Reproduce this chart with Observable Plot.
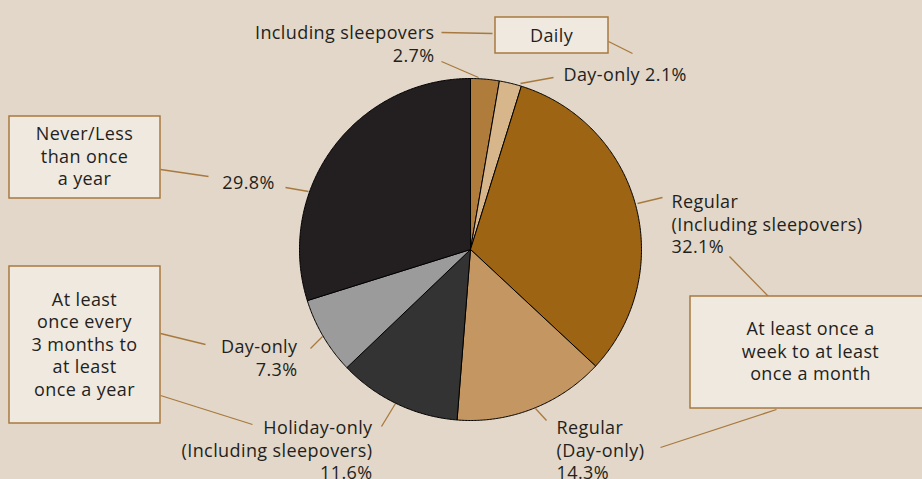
<!DOCTYPE html>
<html>
<head>
<meta charset="utf-8">
<script src="https://cdn.jsdelivr.net/npm/d3@7"></script>
<script src="https://cdn.jsdelivr.net/npm/@observablehq/plot@0.6"></script>
<style>
  html, body { margin: 0; padding: 0; background: #e2d7c8; }
  #chart svg { display: block; }
</style>
</head>
<body>
<div id="chart"></div>
<script>
// ---- data ----
const sliceNames = [
  "Daily – Including sleepovers",
  "Daily – Day-only",
  "Regular (Including sleepovers)",
  "Regular (Day-only)",
  "Holiday-only (Including sleepovers)",
  "Day-only",
  "Never/Less than once a year"
];
const sliceValues = [2.7, 2.1, 32.1, 14.3, 11.6, 7.3, 29.8];
const sliceColors = ["#b07c3b", "#d7b68c", "#9c6413", "#c49661", "#333333", "#9b9b9b", "#231f20"];

const sliceLabels = [
  "Including sleepovers\n2.7%",
  "Day-only 2.1%",
  "Regular\n(Including sleepovers)\n32.1%",
  "Regular\n(Day-only)\n14.3%",
  "Holiday-only\n(Including sleepovers)\n11.6%",
  "Day-only\n7.3%",
  "29.8%"
];
const groupLabels = [
  "Daily",
  "At least once a\nweek to at least\nonce a month",
  "At least\nonce every\n3 months to\nat least\nonce a year",
  "Never/Less\nthan once\na year"
];

// ---- layout (pixels) ----
const W = 922, H = 479;
const cx = 470, cy = 249, R = 171;
const labelPos = [
  {x: 434, y: 43, anchor: "end"},
  {x: 563, y: 73, anchor: "start"},
  {x: 671, y: 223, anchor: "start"},
  {x: 556, y: 449, anchor: "start"},
  {x: 372, y: 449, anchor: "end"},
  {x: 297, y: 357, anchor: "end"},
  {x: 248, y: 181, anchor: "middle"}
];
const boxPos = [
  {x1: 495, x2: 608, y1: 17, y2: 53, tx: 551, ty: 34},
  {x1: 690, x2: 935, y1: 296, y2: 408, tx: 810, ty: 350},
  {x1: 9, x2: 160, y1: 266, y2: 423, tx: 84, ty: 343},
  {x1: 9, x2: 160, y1: 116, y2: 198, tx: 84, ty: 155}
];
const leaders = [
  [441, 32, 492, 33], [608, 41, 632, 53], [441, 61, 478, 77], [520, 83, 553, 77],
  [160, 169, 208, 176], [285, 187, 308, 191],
  [160, 333, 205, 344], [160, 395, 252, 424],
  [310, 348, 322, 336], [381, 426, 395, 403],
  [637, 203, 662, 197], [729, 256, 768, 296],
  [776, 409, 660, 447], [535, 408, 546, 420]
];

// ---- build pie polygons from values ----
const arcs = d3.pie().sort(null).startAngle(0).endAngle(2 * Math.PI)(sliceValues);
const piePts = [];
arcs.forEach((a, i) => {
  const key = sliceNames[i];
  const col = sliceColors[i];
  piePts.push({key, col, x: cx, y: cy});
  const n = Math.max(2, Math.ceil((a.endAngle - a.startAngle) / (Math.PI / 360)));
  for (let k = 0; k <= n; k++) {
    const t = a.startAngle + (a.endAngle - a.startAngle) * k / n;
    piePts.push({key, col, x: cx + R * Math.sin(t), y: cy - R * Math.cos(t)});
  }
  piePts.push({key, col, x: cx, y: cy});
});

const labelData = sliceLabels.map((t, i) => ({text: t, ...labelPos[i]}));
const boxData = groupLabels.map((t, i) => ({text: t, ...boxPos[i]}));
const leaderData = leaders.map(([x1, y1, x2, y2]) => ({x1, y1, x2, y2}));

const font = "'Open Sans', sans-serif";
const fs = 18;
const lh = 1.25;
const textColor = "#231f20";
const accent = "#a8793f";

const chart = Plot.plot({
  width: W, height: H,
  margin: 0,
  x: {domain: [0, W], range: [0, W], axis: null},
  y: {domain: [0, H], range: [0, H], axis: null},
  color: {type: "identity"},
  style: {background: "#e2d7c8", fontFamily: font, fontSize: fs + "px", color: textColor, letterSpacing: "0.4px"},
  marks: [
    Plot.link(leaderData, {x1: "x1", y1: "y1", x2: "x2", y2: "y2", stroke: accent, strokeWidth: 1.3}),
    Plot.rect(boxData, {x1: "x1", x2: "x2", y1: "y1", y2: "y2", fill: "#f0e9e0", stroke: accent, strokeWidth: 1.5}),
    Plot.text(boxData, {x: "tx", y: "ty", text: "text", fill: textColor, fontSize: fs, lineHeight: lh, textAnchor: "middle", lineAnchor: "middle"}),
    Plot.line(piePts, {x: "x", y: "y", z: "key", fill: "col", stroke: "#000", strokeWidth: 1, strokeLinejoin: "round"}),
    Plot.text(labelData.filter(d => d.anchor === "end"), {x: "x", y: "y", text: "text", fill: textColor, fontSize: fs, lineHeight: lh, textAnchor: "end", lineAnchor: "middle"}),
    Plot.text(labelData.filter(d => d.anchor === "start"), {x: "x", y: "y", text: "text", fill: textColor, fontSize: fs, lineHeight: lh, textAnchor: "start", lineAnchor: "middle"}),
    Plot.text(labelData.filter(d => d.anchor === "middle"), {x: "x", y: "y", text: "text", fill: textColor, fontSize: fs, lineHeight: lh, textAnchor: "middle", lineAnchor: "middle"})
  ]
});
document.getElementById("chart").appendChild(chart);
</script>
</body>
</html>
